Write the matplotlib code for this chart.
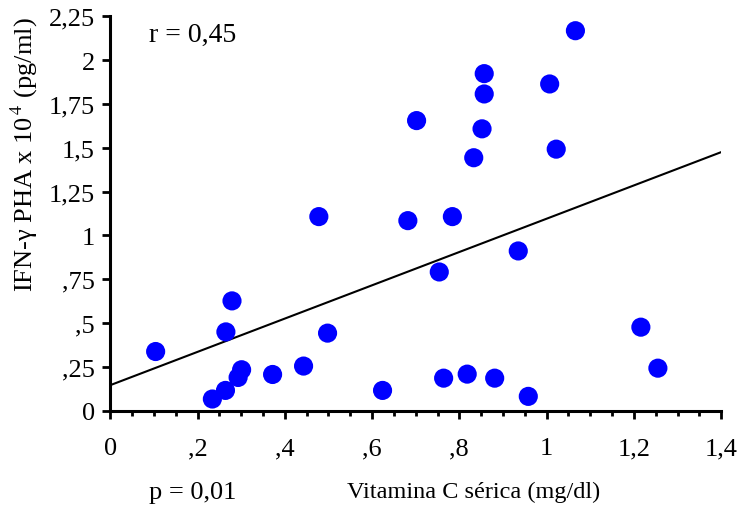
import numpy as np
import matplotlib
matplotlib.use('Agg')
import matplotlib.pyplot as plt
from matplotlib.ticker import MultipleLocator

plt.rcParams['font.family'] = ['Liberation Serif', 'DejaVu Serif']
plt.rcParams['mathtext.fontset'] = 'stix'

# serum vitamin C (mg/dl) vs IFN-gamma PHA (x10^4 pg/ml)
vit_c = [0.478, 1.066, 0.857, 0.857, 1.007, 0.702, 0.852, 0.833, 1.022, 0.682,
         0.784, 0.935, 0.754, 1.216, 1.255, 0.624, 0.764, 0.818, 0.881, 0.958,
         0.104, 0.279, 0.265, 0.498, 0.443, 0.372, 0.301, 0.293, 0.264, 0.234]
ifn = [1.107, 2.168, 1.923, 1.807, 1.864, 1.655, 1.608, 1.443, 1.492, 1.084,
       1.107, 0.911, 0.791, 0.476, 0.242, 0.115, 0.185, 0.208, 0.185, 0.081,
       0.337, 0.626, 0.449, 0.442, 0.254, 0.206, 0.233, 0.189, 0.115, 0.066]

# regression line
fit_intercept = 0.145
fit_slope = 0.95

x_ticks = [0, 0.2, 0.4, 0.6, 0.8, 1.0, 1.2, 1.4]
x_labels = ['0', ',2', ',4', ',6', ',8', '1', '1,2', '1,4']
y_ticks = [0, 0.25, 0.5, 0.75, 1.0, 1.25, 1.5, 1.75, 2.0, 2.25]
y_labels = ['0', ',25', ',5', ',75', '1', '1,25', '1,5', '1,75', '2', '2,25']

fig = plt.figure(figsize=(7.45, 5.10), dpi=100)
ax = fig.add_axes([0.148, 0.193, 0.820, 0.773])

ax.scatter(vit_c, ifn, s=190, color='#0000ff', edgecolors='none', zorder=3,
           clip_on=False)
xl = np.array([0, 1.4])
ax.plot(xl, fit_intercept + fit_slope * xl, color='black', lw=1.5, zorder=2)

ax.set_xlim(0, 1.4)
ax.set_ylim(0, 2.25)
ax.set_xticks(x_ticks)
ax.set_xticklabels(x_labels)
ax.set_yticks(y_ticks)
ax.set_yticklabels(y_labels)
ax.xaxis.set_minor_locator(MultipleLocator(0.05))

for s in ['top', 'right']:
    ax.spines[s].set_visible(False)
for s in ['left', 'bottom']:
    ax.spines[s].set_linewidth(2.2)

ax.tick_params(axis='both', which='major', direction='out', length=6, width=2,
               labelsize=19, pad=5)
ax.tick_params(axis='x', which='major', pad=13)
ax.tick_params(axis='x', which='minor', direction='out', length=3.5, width=2)

ax.set_xlabel('Vitamina C sérica (mg/dl)', fontsize=17.5, va='center')
ax.xaxis.set_label_coords(0.594, -0.204)
ax.set_ylabel(r'IFN-γ PHA x 10$^{\,4}$ (pg/ml)', fontsize=19, va='center')
ax.yaxis.set_label_coords(-0.14, 0.651)

ax.text(0.064, 0.955, 'r = 0,45', transform=ax.transAxes, fontsize=20,
        va='center', ha='left')
fig.text(0.259, 0.033, 'p = 0,01', fontsize=19, va='center', ha='center')

plt.savefig('out.png', dpi=100)
